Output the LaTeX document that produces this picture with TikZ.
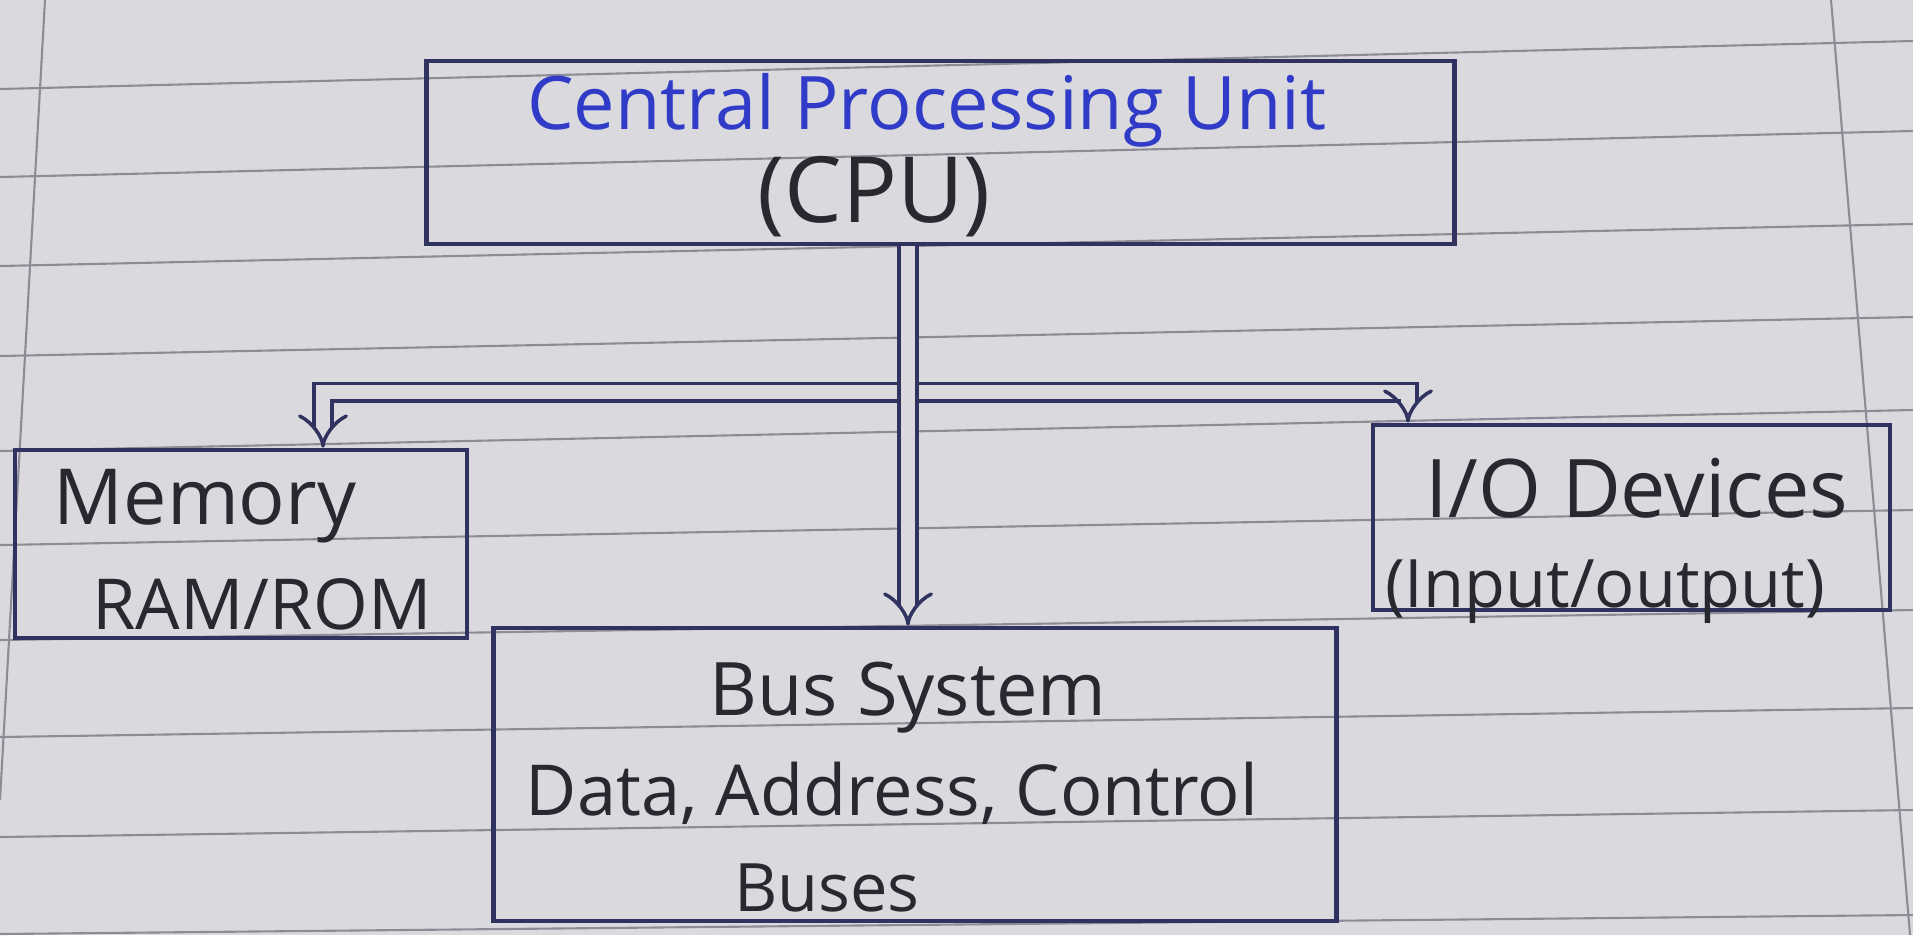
\documentclass[tikz,border=0pt]{standalone}
\usepackage{fontspec}
\setmainfont{Open Sans}
\usetikzlibrary{arrows.meta,calc}
\definecolor{paper}{RGB}{218,218,222}
\definecolor{ruled}{RGB}{140,140,150}
\definecolor{ink}{RGB}{40,40,48}
\definecolor{navy}{RGB}{48,50,95}
\definecolor{penblue}{RGB}{48,60,200}
\begin{document}
\begin{tikzpicture}[x=0.01cm,y=-0.01cm,
  box/.style={draw=navy, line width=1.3pt, rectangle, inner sep=0pt},
  lbl/.style={text=ink, font=\fontsize{21}{25}\selectfont, inner sep=0pt},
  busline/.style={draw=navy, line width=1pt, double=paper, double distance=0.14cm},
  ruleline/.style={draw=ruled, line width=0.6pt}]
\fill[paper] (0,0) rectangle (1913,935);
\useasboundingbox (0,0) rectangle (1913,935);
% ruled paper
\foreach \a/\b in {89/41,177/131,266/224,356/317,451/410,545/510,640/610,737/708,837/810,934/915}
  \draw[ruleline] (0,\a) -- (1913,\b);
\draw[ruleline] (45,0) -- (0,800);
\draw[ruleline] (1831,0) -- (1910,935);
% boxes
\node[box, minimum width=10.27cm, minimum height=1.83cm] (cpu) at (940.5,152.5) {};
\node[box, minimum width=4.52cm, minimum height=1.88cm] (mem) at (241,544) {};
\node[box, minimum width=5.17cm, minimum height=1.85cm] (io) at (1631.5,517.5) {};
\node[box, minimum width=8.42cm, minimum height=2.93cm] (bus) at (915,774.5) {};
% texts
\node[lbl, text=penblue, font=\fontsize{21}{25}\selectfont] (cpuT) at (927,110) {Central Processing Unit};
\node[lbl, font=\fontsize{26}{30}\selectfont] (cpuS) at (874,197) {(CPU)};
\node[lbl, font=\fontsize{22}{26}\selectfont] (memT) at (205,506) {Memory};
\node[lbl, font=\fontsize{20}{24}\selectfont] (memS) at (262,604) {RAM/ROM};
\node[lbl, font=\fontsize{23}{27}\selectfont] (ioT) at (1637,488) {I/O Devices};
\node[lbl, font=\fontsize{19}{23}\selectfont] (ioS) at (1605,592) {(Input/output)};
\node[lbl] (busT) at (908,698) {Bus System};
\node[lbl, font=\fontsize{20}{24}\selectfont] (busS) at (892,793) {Data, Address, Control};
\node[lbl, font=\fontsize{19}{23}\selectfont] (busB) at (827,888) {Buses};
% connectors
\coordinate (hl) at (323,392);
\coordinate (hr) at (1408,392);
\coordinate (vx) at (908,0);
\draw[busline, {Implies}-{Implies}] (mem.north -| hl) -- (hl) -- (hr) -- (io.north -| hr);
\draw[busline, -{Implies}] (cpu.south -| vx) -- (bus.north -| vx);
\end{tikzpicture}
\end{document}
